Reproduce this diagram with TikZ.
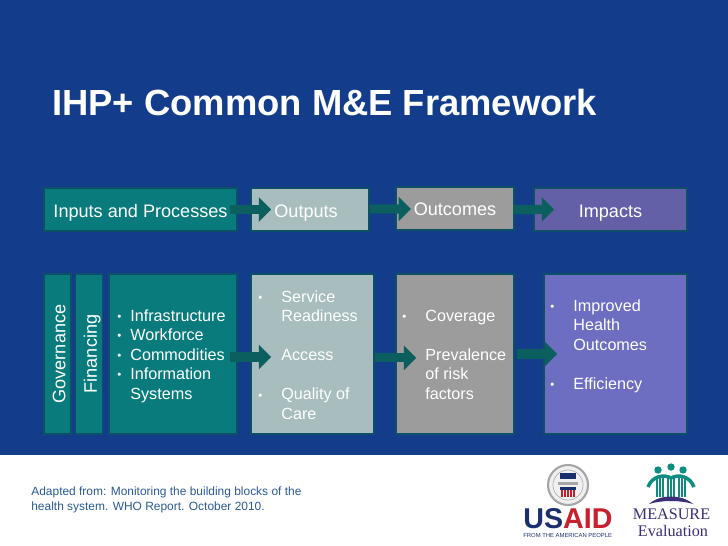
\documentclass[tikz,border=0pt]{standalone}
\usepackage{fontspec}
\usepackage{xcolor}
\setmainfont{Liberation Sans}
\newfontfamily\serifmeasure{Liberation Serif}
\usetikzlibrary{arrows.meta}
\def\px{0.5691pt}
\definecolor{slidebg}{HTML}{133C8A}
\definecolor{boxedge}{HTML}{0E4F68}
\definecolor{tealbox}{HTML}{0A7B7C}
\definecolor{paleteal}{HTML}{A8BDBD}
\definecolor{greybox}{HTML}{9C9C9C}
\definecolor{violethead}{HTML}{6460A8}
\definecolor{violetbox}{HTML}{6D6DC2}
\definecolor{arrowteal}{HTML}{0B5F5E}
\definecolor{captionblue}{HTML}{2A5A96}
\definecolor{usaidblue}{HTML}{1B2F6E}
\definecolor{usaidred}{HTML}{C8202F}
\definecolor{measureteal}{HTML}{0F8C80}
\definecolor{measureviolet}{HTML}{3A2F78}
\newcommand{\bul}[1]{\llap{\raisebox{0.4pt}{\fontsize{6.5}{6.5}\selectfont\textbullet}\hspace{#1}}}
\begin{document}
\begin{tikzpicture}[x=\px,y=-\px,
  box/.style={draw=boxedge,line width=1pt,inner sep=0pt,text=white,text height=9pt,text depth=0pt,font=\fontsize{10.3}{12}\selectfont},
  listtext/.style={anchor=west,inner sep=0pt,align=left,text=white,font=\fontsize{9.2}{11.1}\selectfont},
  sidebox/.style={box,rotate=90,minimum width=160*\px,minimum height=27*\px},
  flow/.style={draw=arrowteal,line width=5.2pt,-{Triangle[length=7pt,width=13.5pt]}}]
\fill[slidebg] (0,0) rectangle (728,546);
\fill[white] (0,455) rectangle (728,546);
\node[anchor=west,inner sep=0pt,text=white,font=\bfseries\fontsize{20.7}{24}\selectfont] (title) at (52,103) {IHP+ Common M\&E Framework};
\node[box,fill=tealbox,minimum width=193*\px,minimum height=43*\px] (inputs) at (140.5,209.5) {Inputs and Processes};
\node[box,fill=paleteal,minimum width=118*\px,minimum height=43*\px] (outputs) at (310,209.5) {Outputs\kern4.5pt};
\node[box,fill=greybox,minimum width=118*\px,minimum height=43*\px,text height=7.4pt] (outcomes) at (455,208.5) {Outcomes};
\node[box,fill=violethead,minimum width=153*\px,minimum height=43*\px] (impacts) at (610.5,209.5) {Impacts};
\node[sidebox,fill=tealbox] (governance) at (57.5,354) {Governance};
\node[sidebox,fill=tealbox] (financing) at (89,354) {Financing};
\node[box,fill=tealbox,minimum width=128*\px,minimum height=160*\px] (systems) at (173,354) {};
\node[box,fill=paleteal,minimum width=123*\px,minimum height=160*\px] (readiness) at (312.5,354) {};
\node[box,fill=greybox,minimum width=118*\px,minimum height=160*\px] (coverage) at (455,354) {};
\node[box,fill=violetbox,minimum width=143*\px,minimum height=160*\px] (health) at (615.5,354) {};
\node[listtext] (systemslist) at (130,356) {\bul{5.1pt}Infrastructure\\\bul{5.1pt}Workforce\\\bul{5.1pt}Commodities\\\bul{5.1pt}Information\\Systems};
\node[listtext] (readinesslist) at (281,355) {\bul{10.8pt}Service\\Readiness\\~\\Access\\~\\\bul{10.8pt}Quality of\\Care};
\node[listtext] (coveragelist) at (425,354.5) {\bul{10.8pt}Coverage\\~\\Prevalence\\of risk\\factors};
\node[listtext] (healthlist) at (573,346) {\bul{10.8pt}Improved\\Health\\Outcomes\\~\\\bul{10.8pt}Efficiency};
\draw[flow] ([xshift=-4.5pt]inputs.east) -- ([xshift=12pt]outputs.west);
\draw[flow] ([yshift=0.3pt]outputs.east) -- ([xshift=9pt,yshift=-0.3pt]outcomes.west);
\draw[flow] ([xshift=-1pt,yshift=-0.6pt]outcomes.east) -- ([xshift=12pt]impacts.west);
\draw[flow] ([xshift=-4.5pt,yshift=-1.7pt]systems.east) -- ([xshift=12pt,yshift=-1.7pt]readiness.west);
\draw[flow] ([yshift=-2.2pt]readiness.east) -- ([xshift=12pt,yshift=-2.2pt]coverage.west);
\draw[flow] ([xshift=1pt]coverage.east) -- ([xshift=8pt]health.west);
\node[anchor=west,inner sep=0pt,align=left,text=captionblue,font=\fontsize{6.8}{8.6}\selectfont] (caption) at (31,499.5) {Adapted from: Monitoring the building blocks of the\\health system. WHO Report. October 2010.};
\draw[gray!70,line width=1.2pt,fill=gray!12] (568,485) circle (20);
\draw[gray!60,line width=0.4pt] (568,485) circle (15);
\fill[usaidblue] (560,473) rectangle (576,479);
\fill[gray!70] (558,482) rectangle (578,485);
\fill[usaidblue] (560,487) rectangle (576,490);
\foreach \i in {561,564,567,570,573} \fill[usaidred] (\i,490) rectangle ++(1.6,7);
\node[anchor=west,inner sep=0pt,font=\bfseries\fontsize{16.3}{18}\selectfont] (usaid) at (523,518.5) {\textcolor{usaidblue}{US}\textcolor{usaidred}{AID}};
\node[anchor=west,inner sep=0pt,text=usaidblue,font=\fontsize{3.35}{4}\selectfont] (usaidline) at (523,535.5) {FROM THE AMERICAN PEOPLE};
\foreach \hx/\hy in {658/470,671/467,683/470} \fill[measureteal] (\hx,\hy) circle (3.7);
\draw[measureteal,line width=2pt] (648,487) .. controls (652,476) and (664,474) .. (671,478) .. controls (678,474) and (690,476) .. (694,487);
\foreach \bx in {657,660,663,668,671,674,679,682,685} \draw[measureteal,line width=0.9pt] (\bx,477) -- (\bx,497);
\fill[measureviolet] (649,504) .. controls (660,494) and (682,494) .. (693,504) .. controls (680,500) and (662,500) .. (649,504) -- cycle;
\node[inner sep=0pt,text=measureviolet,font=\serifmeasure\fontsize{9.2}{11}\selectfont] (measure) at (671.5,514) {MEASURE};
\node[inner sep=0pt,text=measureviolet,font=\serifmeasure\fontsize{9.2}{11}\selectfont] (evaluation) at (673,531) {Evaluation};
\end{tikzpicture}
\end{document}
